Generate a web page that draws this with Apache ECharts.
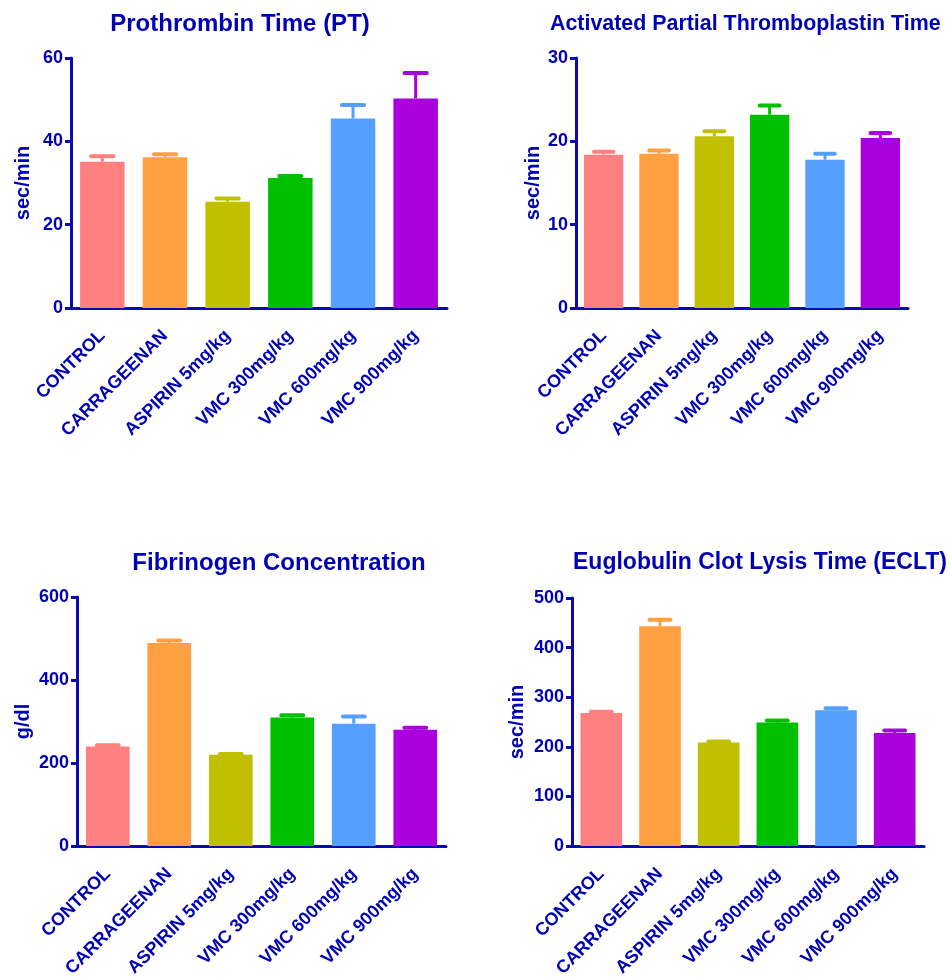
<!DOCTYPE html>
<html>
<head>
<meta charset="utf-8">
<script src="https://cdn.jsdelivr.net/npm/echarts@6/dist/echarts.min.js"></script>
<style>
  html, body { margin: 0; padding: 0; background: #fff; }
  #chart { width: 947px; height: 980px; }
</style>
</head>
<body>
<div id="chart"></div>
<script>
// Treatment groups shared by all four panels
const groups = ['CONTROL', 'CARRAGEENAN', 'ASPIRIN 5mg/kg', 'VMC 300mg/kg', 'VMC 600mg/kg', 'VMC 900mg/kg'];
const barColors = ['#FF8080', '#FFA040', '#C0C000', '#00C000', '#55A0FF', '#AA00DD'];

// Prothrombin Time (sec/min): mean and SEM
const ptMean = [35.1, 36.2, 25.5, 31.2, 45.5, 50.3];
const ptSem  = [1.3, 0.7, 0.8, 0.5, 3.2, 6.1];

// Activated Partial Thromboplastin Time (sec/min)
const apttMean = [18.4, 18.5, 20.6, 23.2, 17.8, 20.4];
const apttSem  = [0.36, 0.4, 0.6, 1.1, 0.72, 0.6];

// Fibrinogen Concentration (g/dl)
const fibMean = [240, 489, 220, 310, 295, 280];
const fibSem  = [3, 6, 2, 5, 17, 5];

// Euglobulin Clot Lysis Time (sec/min)
const ecltMean = [268, 443, 209, 249, 274, 228];
const ecltSem  = [3, 13, 2, 4, 4, 5];

// Y-axis ticks per panel
const ptTicks   = { min: 0, max: 60,  interval: 20 };
const apttTicks = { min: 0, max: 30,  interval: 10 };
const fibTicks  = { min: 0, max: 600, interval: 200 };
const ecltTicks = { min: 0, max: 500, interval: 100 };

const ink = '#0000B4';
const axisInk = '#0A0AB0';
const fontFamily = '"Liberation Sans", Arial, sans-serif';

const panels = [
  { title: 'Prothrombin Time (PT)', titleSize: 24, unit: 'sec/min', mean: ptMean, sem: ptSem, ticks: ptTicks,
    grid: { left: 71, top: 58, width: 376, height: 250 }, nameGap: 38,
    titlePos: { left: 235, top: 7, textAlign: 'center' } },
  { title: 'Activated Partial Thromboplastin Time', titleSize: 21.4, unit: 'sec/min', mean: apttMean, sem: apttSem, ticks: apttTicks,
    grid: { left: 576, top: 58, width: 332, height: 250 }, nameGap: 33,
    titlePos: { left: 545, top: 9, textAlign: 'left' } },
  { title: 'Fibrinogen Concentration', titleSize: 24, unit: 'g/dl', mean: fibMean, sem: fibSem, ticks: fibTicks,
    grid: { left: 77, top: 597, width: 369, height: 251 }, nameGap: 44,
    titlePos: { left: 274, top: 546, textAlign: 'center' } },
  { title: 'Euglobulin Clot Lysis Time (ECLT)', titleSize: 23, unit: 'sec/min', mean: ecltMean, sem: ecltSem, ticks: ecltTicks,
    grid: { left: 572, top: 598, width: 352, height: 250 }, nameGap: 45,
    titlePos: { left: 568, top: 546, textAlign: 'left' } }
];

const option = {
  backgroundColor: '#ffffff',
  animation: false,
  title: [], grid: [], xAxis: [], yAxis: [], series: []
};

panels.forEach((p, i) => {
  option.title.push(Object.assign({
    text: p.title,
    textStyle: { color: ink, fontFamily, fontWeight: 'bold', fontSize: p.titleSize }
  }, p.titlePos));

  option.grid.push(Object.assign({ containLabel: false }, p.grid));

  option.xAxis.push({
    type: 'category', gridIndex: i, data: groups,
    axisLine: { lineStyle: { color: axisInk, width: 3 } },
    axisTick: { alignWithLabel: true, length: 6, lineStyle: { color: axisInk, width: 3 } },
    axisLabel: {
      rotate: 45, interval: 0, margin: 25,
      color: ink, fontFamily, fontWeight: 'bold', fontSize: 18
    }
  });

  option.yAxis.push({
    type: 'value', gridIndex: i,
    min: p.ticks.min, max: p.ticks.max, interval: p.ticks.interval,
    name: p.unit, nameLocation: 'middle', nameGap: p.nameGap,
    nameTextStyle: { color: ink, fontFamily, fontWeight: 'bold', fontSize: 20 },
    axisLine: { show: true, lineStyle: { color: axisInk, width: 3 } },
    axisTick: { show: true, length: 6, lineStyle: { color: axisInk, width: 3 } },
    axisLabel: { color: ink, fontFamily, fontWeight: 'bold', fontSize: 18, margin: 8 },
    splitLine: { show: false }
  });

  // Bars
  option.series.push({
    type: 'bar', xAxisIndex: i, yAxisIndex: i, barWidth: '71%',
    data: p.mean.map((v, k) => ({ value: v, itemStyle: { color: barColors[k] } })),
    z: 2
  });

  // Upper error bars (mean + SEM)
  option.series.push({
    type: 'custom', xAxisIndex: i, yAxisIndex: i, z: 1,
    data: p.mean.map((v, k) => [k, v, v + p.sem[k]]),
    renderItem: (params, api) => {
      const k = api.value(0);
      const base = api.coord([k, api.value(1)]);
      const top = api.coord([k, api.value(2)]);
      const half = api.size([1, 0])[0] * 0.71 / 4;
      const color = barColors[k];
      return {
        type: 'group',
        children: [
          { type: 'line', shape: { x1: base[0], y1: base[1], x2: top[0], y2: top[1] },
            style: { stroke: color, lineWidth: 3 } },
          { type: 'line', shape: { x1: top[0] - half, y1: top[1], x2: top[0] + half, y2: top[1] },
            style: { stroke: color, lineWidth: 4, lineCap: 'round' } }
        ]
      };
    }
  });
});

const chart = echarts.init(document.getElementById('chart'), null, { renderer: 'canvas' });
chart.setOption(option);
</script>
</body>
</html>
